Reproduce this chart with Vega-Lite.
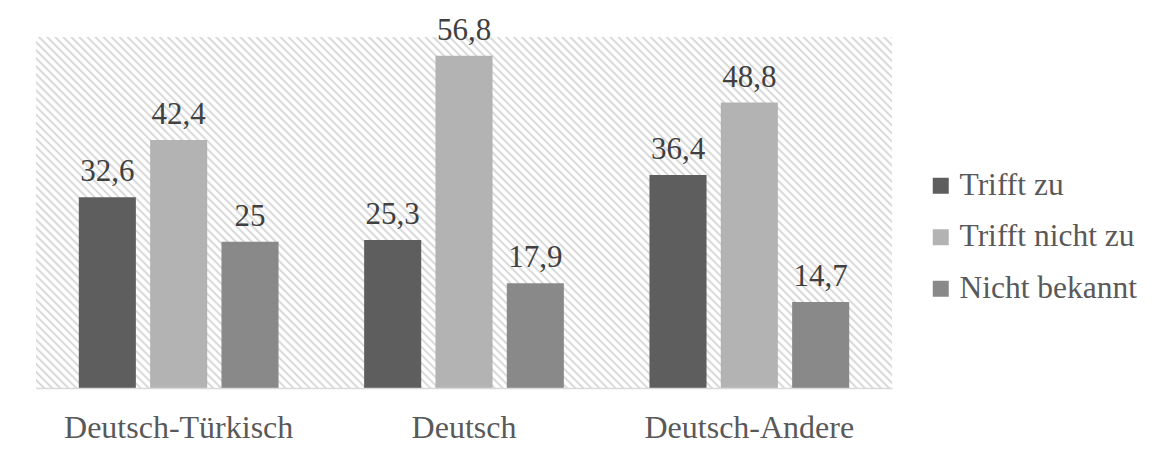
{
  "$schema": "https://vega.github.io/schema/vega-lite/v6.json",
  "width": 856,
  "height": 351,
  "autosize": {"type": "none"},
  "padding": {"left": 36, "top": 37, "right": 264, "bottom": 67},
  "background": "white",
  "config": {
    "view": {"stroke": null},
    "font": "Liberation Serif",
    "locale": {"number": {"decimal": ",", "thousands": ".", "grouping": [3], "currency": ["", " €"]}}
  },
  "data": {
    "values": [
      {"Gruppe": "Deutsch-Türkisch", "Antwort": "Trifft zu", "Wert": 32.6},
      {"Gruppe": "Deutsch-Türkisch", "Antwort": "Trifft nicht zu", "Wert": 42.4},
      {"Gruppe": "Deutsch-Türkisch", "Antwort": "Nicht bekannt", "Wert": 25},
      {"Gruppe": "Deutsch", "Antwort": "Trifft zu", "Wert": 25.3},
      {"Gruppe": "Deutsch", "Antwort": "Trifft nicht zu", "Wert": 56.8},
      {"Gruppe": "Deutsch", "Antwort": "Nicht bekannt", "Wert": 17.9},
      {"Gruppe": "Deutsch-Andere", "Antwort": "Trifft zu", "Wert": 36.4},
      {"Gruppe": "Deutsch-Andere", "Antwort": "Trifft nicht zu", "Wert": 48.8},
      {"Gruppe": "Deutsch-Andere", "Antwort": "Nicht bekannt", "Wert": 14.7}
    ]
  },
  "layer": [
    {
      "data": {"values": [{}]},
      "mark": {
        "type": "rect",
        "fill": {
          "gradient": "linear",
          "x1": 0, "y1": 1, "x2": 1.2071, "y2": 0.50503,
          "stops": [
            {"offset":0,"color":"#d2d2d2"},{"offset":0.002,"color":"#fff"},{"offset":0.00467,"color":"#fff"},{"offset":0.00667,"color":"#d2d2d2"},{"offset":0.00867,"color":"#fff"},{"offset":0.01133,"color":"#fff"},{"offset":0.01333,"color":"#d2d2d2"},{"offset":0.01533,"color":"#fff"},
            {"offset":0.018,"color":"#fff"},{"offset":0.02,"color":"#d2d2d2"},{"offset":0.022,"color":"#fff"},{"offset":0.02467,"color":"#fff"},{"offset":0.02667,"color":"#d2d2d2"},{"offset":0.02867,"color":"#fff"},{"offset":0.03133,"color":"#fff"},{"offset":0.03333,"color":"#d2d2d2"},{"offset":0.03533,"color":"#fff"},
            {"offset":0.038,"color":"#fff"},{"offset":0.04,"color":"#d2d2d2"},{"offset":0.042,"color":"#fff"},{"offset":0.04467,"color":"#fff"},{"offset":0.04667,"color":"#d2d2d2"},{"offset":0.04867,"color":"#fff"},{"offset":0.05133,"color":"#fff"},{"offset":0.05333,"color":"#d2d2d2"},{"offset":0.05533,"color":"#fff"},
            {"offset":0.058,"color":"#fff"},{"offset":0.06,"color":"#d2d2d2"},{"offset":0.062,"color":"#fff"},{"offset":0.06467,"color":"#fff"},{"offset":0.06667,"color":"#d2d2d2"},{"offset":0.06867,"color":"#fff"},{"offset":0.07133,"color":"#fff"},{"offset":0.07333,"color":"#d2d2d2"},{"offset":0.07533,"color":"#fff"},
            {"offset":0.078,"color":"#fff"},{"offset":0.08,"color":"#d2d2d2"},{"offset":0.082,"color":"#fff"},{"offset":0.08467,"color":"#fff"},{"offset":0.08667,"color":"#d2d2d2"},{"offset":0.08867,"color":"#fff"},{"offset":0.09133,"color":"#fff"},{"offset":0.09333,"color":"#d2d2d2"},{"offset":0.09533,"color":"#fff"},
            {"offset":0.098,"color":"#fff"},{"offset":0.1,"color":"#d2d2d2"},{"offset":0.102,"color":"#fff"},{"offset":0.10467,"color":"#fff"},{"offset":0.10667,"color":"#d2d2d2"},{"offset":0.10867,"color":"#fff"},{"offset":0.11133,"color":"#fff"},{"offset":0.11333,"color":"#d2d2d2"},{"offset":0.11533,"color":"#fff"},
            {"offset":0.118,"color":"#fff"},{"offset":0.12,"color":"#d2d2d2"},{"offset":0.122,"color":"#fff"},{"offset":0.12467,"color":"#fff"},{"offset":0.12667,"color":"#d2d2d2"},{"offset":0.12867,"color":"#fff"},{"offset":0.13133,"color":"#fff"},{"offset":0.13333,"color":"#d2d2d2"},{"offset":0.13533,"color":"#fff"},
            {"offset":0.138,"color":"#fff"},{"offset":0.14,"color":"#d2d2d2"},{"offset":0.142,"color":"#fff"},{"offset":0.14467,"color":"#fff"},{"offset":0.14667,"color":"#d2d2d2"},{"offset":0.14867,"color":"#fff"},{"offset":0.15133,"color":"#fff"},{"offset":0.15333,"color":"#d2d2d2"},{"offset":0.15533,"color":"#fff"},
            {"offset":0.158,"color":"#fff"},{"offset":0.16,"color":"#d2d2d2"},{"offset":0.162,"color":"#fff"},{"offset":0.16467,"color":"#fff"},{"offset":0.16667,"color":"#d2d2d2"},{"offset":0.16867,"color":"#fff"},{"offset":0.17133,"color":"#fff"},{"offset":0.17333,"color":"#d2d2d2"},{"offset":0.17533,"color":"#fff"},
            {"offset":0.178,"color":"#fff"},{"offset":0.18,"color":"#d2d2d2"},{"offset":0.182,"color":"#fff"},{"offset":0.18467,"color":"#fff"},{"offset":0.18667,"color":"#d2d2d2"},{"offset":0.18867,"color":"#fff"},{"offset":0.19133,"color":"#fff"},{"offset":0.19333,"color":"#d2d2d2"},{"offset":0.19533,"color":"#fff"},
            {"offset":0.198,"color":"#fff"},{"offset":0.2,"color":"#d2d2d2"},{"offset":0.202,"color":"#fff"},{"offset":0.20467,"color":"#fff"},{"offset":0.20667,"color":"#d2d2d2"},{"offset":0.20867,"color":"#fff"},{"offset":0.21133,"color":"#fff"},{"offset":0.21333,"color":"#d2d2d2"},{"offset":0.21533,"color":"#fff"},
            {"offset":0.218,"color":"#fff"},{"offset":0.22,"color":"#d2d2d2"},{"offset":0.222,"color":"#fff"},{"offset":0.22467,"color":"#fff"},{"offset":0.22667,"color":"#d2d2d2"},{"offset":0.22867,"color":"#fff"},{"offset":0.23133,"color":"#fff"},{"offset":0.23333,"color":"#d2d2d2"},{"offset":0.23533,"color":"#fff"},
            {"offset":0.238,"color":"#fff"},{"offset":0.24,"color":"#d2d2d2"},{"offset":0.242,"color":"#fff"},{"offset":0.24467,"color":"#fff"},{"offset":0.24667,"color":"#d2d2d2"},{"offset":0.24867,"color":"#fff"},{"offset":0.25133,"color":"#fff"},{"offset":0.25333,"color":"#d2d2d2"},{"offset":0.25533,"color":"#fff"},
            {"offset":0.258,"color":"#fff"},{"offset":0.26,"color":"#d2d2d2"},{"offset":0.262,"color":"#fff"},{"offset":0.26467,"color":"#fff"},{"offset":0.26667,"color":"#d2d2d2"},{"offset":0.26867,"color":"#fff"},{"offset":0.27133,"color":"#fff"},{"offset":0.27333,"color":"#d2d2d2"},{"offset":0.27533,"color":"#fff"},
            {"offset":0.278,"color":"#fff"},{"offset":0.28,"color":"#d2d2d2"},{"offset":0.282,"color":"#fff"},{"offset":0.28467,"color":"#fff"},{"offset":0.28667,"color":"#d2d2d2"},{"offset":0.28867,"color":"#fff"},{"offset":0.29133,"color":"#fff"},{"offset":0.29333,"color":"#d2d2d2"},{"offset":0.29533,"color":"#fff"},
            {"offset":0.298,"color":"#fff"},{"offset":0.3,"color":"#d2d2d2"},{"offset":0.302,"color":"#fff"},{"offset":0.30467,"color":"#fff"},{"offset":0.30667,"color":"#d2d2d2"},{"offset":0.30867,"color":"#fff"},{"offset":0.31133,"color":"#fff"},{"offset":0.31333,"color":"#d2d2d2"},{"offset":0.31533,"color":"#fff"},
            {"offset":0.318,"color":"#fff"},{"offset":0.32,"color":"#d2d2d2"},{"offset":0.322,"color":"#fff"},{"offset":0.32467,"color":"#fff"},{"offset":0.32667,"color":"#d2d2d2"},{"offset":0.32867,"color":"#fff"},{"offset":0.33133,"color":"#fff"},{"offset":0.33333,"color":"#d2d2d2"},{"offset":0.33533,"color":"#fff"},
            {"offset":0.338,"color":"#fff"},{"offset":0.34,"color":"#d2d2d2"},{"offset":0.342,"color":"#fff"},{"offset":0.34467,"color":"#fff"},{"offset":0.34667,"color":"#d2d2d2"},{"offset":0.34867,"color":"#fff"},{"offset":0.35133,"color":"#fff"},{"offset":0.35333,"color":"#d2d2d2"},{"offset":0.35533,"color":"#fff"},
            {"offset":0.358,"color":"#fff"},{"offset":0.36,"color":"#d2d2d2"},{"offset":0.362,"color":"#fff"},{"offset":0.36467,"color":"#fff"},{"offset":0.36667,"color":"#d2d2d2"},{"offset":0.36867,"color":"#fff"},{"offset":0.37133,"color":"#fff"},{"offset":0.37333,"color":"#d2d2d2"},{"offset":0.37533,"color":"#fff"},
            {"offset":0.378,"color":"#fff"},{"offset":0.38,"color":"#d2d2d2"},{"offset":0.382,"color":"#fff"},{"offset":0.38467,"color":"#fff"},{"offset":0.38667,"color":"#d2d2d2"},{"offset":0.38867,"color":"#fff"},{"offset":0.39133,"color":"#fff"},{"offset":0.39333,"color":"#d2d2d2"},{"offset":0.39533,"color":"#fff"},
            {"offset":0.398,"color":"#fff"},{"offset":0.4,"color":"#d2d2d2"},{"offset":0.402,"color":"#fff"},{"offset":0.40467,"color":"#fff"},{"offset":0.40667,"color":"#d2d2d2"},{"offset":0.40867,"color":"#fff"},{"offset":0.41133,"color":"#fff"},{"offset":0.41333,"color":"#d2d2d2"},{"offset":0.41533,"color":"#fff"},
            {"offset":0.418,"color":"#fff"},{"offset":0.42,"color":"#d2d2d2"},{"offset":0.422,"color":"#fff"},{"offset":0.42467,"color":"#fff"},{"offset":0.42667,"color":"#d2d2d2"},{"offset":0.42867,"color":"#fff"},{"offset":0.43133,"color":"#fff"},{"offset":0.43333,"color":"#d2d2d2"},{"offset":0.43533,"color":"#fff"},
            {"offset":0.438,"color":"#fff"},{"offset":0.44,"color":"#d2d2d2"},{"offset":0.442,"color":"#fff"},{"offset":0.44467,"color":"#fff"},{"offset":0.44667,"color":"#d2d2d2"},{"offset":0.44867,"color":"#fff"},{"offset":0.45133,"color":"#fff"},{"offset":0.45333,"color":"#d2d2d2"},{"offset":0.45533,"color":"#fff"},
            {"offset":0.458,"color":"#fff"},{"offset":0.46,"color":"#d2d2d2"},{"offset":0.462,"color":"#fff"},{"offset":0.46467,"color":"#fff"},{"offset":0.46667,"color":"#d2d2d2"},{"offset":0.46867,"color":"#fff"},{"offset":0.47133,"color":"#fff"},{"offset":0.47333,"color":"#d2d2d2"},{"offset":0.47533,"color":"#fff"},
            {"offset":0.478,"color":"#fff"},{"offset":0.48,"color":"#d2d2d2"},{"offset":0.482,"color":"#fff"},{"offset":0.48467,"color":"#fff"},{"offset":0.48667,"color":"#d2d2d2"},{"offset":0.48867,"color":"#fff"},{"offset":0.49133,"color":"#fff"},{"offset":0.49333,"color":"#d2d2d2"},{"offset":0.49533,"color":"#fff"},
            {"offset":0.498,"color":"#fff"},{"offset":0.5,"color":"#d2d2d2"},{"offset":0.502,"color":"#fff"},{"offset":0.50467,"color":"#fff"},{"offset":0.50667,"color":"#d2d2d2"},{"offset":0.50867,"color":"#fff"},{"offset":0.51133,"color":"#fff"},{"offset":0.51333,"color":"#d2d2d2"},{"offset":0.51533,"color":"#fff"},
            {"offset":0.518,"color":"#fff"},{"offset":0.52,"color":"#d2d2d2"},{"offset":0.522,"color":"#fff"},{"offset":0.52467,"color":"#fff"},{"offset":0.52667,"color":"#d2d2d2"},{"offset":0.52867,"color":"#fff"},{"offset":0.53133,"color":"#fff"},{"offset":0.53333,"color":"#d2d2d2"},{"offset":0.53533,"color":"#fff"},
            {"offset":0.538,"color":"#fff"},{"offset":0.54,"color":"#d2d2d2"},{"offset":0.542,"color":"#fff"},{"offset":0.54467,"color":"#fff"},{"offset":0.54667,"color":"#d2d2d2"},{"offset":0.54867,"color":"#fff"},{"offset":0.55133,"color":"#fff"},{"offset":0.55333,"color":"#d2d2d2"},{"offset":0.55533,"color":"#fff"},
            {"offset":0.558,"color":"#fff"},{"offset":0.56,"color":"#d2d2d2"},{"offset":0.562,"color":"#fff"},{"offset":0.56467,"color":"#fff"},{"offset":0.56667,"color":"#d2d2d2"},{"offset":0.56867,"color":"#fff"},{"offset":0.57133,"color":"#fff"},{"offset":0.57333,"color":"#d2d2d2"},{"offset":0.57533,"color":"#fff"},
            {"offset":0.578,"color":"#fff"},{"offset":0.58,"color":"#d2d2d2"},{"offset":0.582,"color":"#fff"},{"offset":0.58467,"color":"#fff"},{"offset":0.58667,"color":"#d2d2d2"},{"offset":0.58867,"color":"#fff"},{"offset":0.59133,"color":"#fff"},{"offset":0.59333,"color":"#d2d2d2"},{"offset":0.59533,"color":"#fff"},
            {"offset":0.598,"color":"#fff"},{"offset":0.6,"color":"#d2d2d2"},{"offset":0.602,"color":"#fff"},{"offset":0.60467,"color":"#fff"},{"offset":0.60667,"color":"#d2d2d2"},{"offset":0.60867,"color":"#fff"},{"offset":0.61133,"color":"#fff"},{"offset":0.61333,"color":"#d2d2d2"},{"offset":0.61533,"color":"#fff"},
            {"offset":0.618,"color":"#fff"},{"offset":0.62,"color":"#d2d2d2"},{"offset":0.622,"color":"#fff"},{"offset":0.62467,"color":"#fff"},{"offset":0.62667,"color":"#d2d2d2"},{"offset":0.62867,"color":"#fff"},{"offset":0.63133,"color":"#fff"},{"offset":0.63333,"color":"#d2d2d2"},{"offset":0.63533,"color":"#fff"},
            {"offset":0.638,"color":"#fff"},{"offset":0.64,"color":"#d2d2d2"},{"offset":0.642,"color":"#fff"},{"offset":0.64467,"color":"#fff"},{"offset":0.64667,"color":"#d2d2d2"},{"offset":0.64867,"color":"#fff"},{"offset":0.65133,"color":"#fff"},{"offset":0.65333,"color":"#d2d2d2"},{"offset":0.65533,"color":"#fff"},
            {"offset":0.658,"color":"#fff"},{"offset":0.66,"color":"#d2d2d2"},{"offset":0.662,"color":"#fff"},{"offset":0.66467,"color":"#fff"},{"offset":0.66667,"color":"#d2d2d2"},{"offset":0.66867,"color":"#fff"},{"offset":0.67133,"color":"#fff"},{"offset":0.67333,"color":"#d2d2d2"},{"offset":0.67533,"color":"#fff"},
            {"offset":0.678,"color":"#fff"},{"offset":0.68,"color":"#d2d2d2"},{"offset":0.682,"color":"#fff"},{"offset":0.68467,"color":"#fff"},{"offset":0.68667,"color":"#d2d2d2"},{"offset":0.68867,"color":"#fff"},{"offset":0.69133,"color":"#fff"},{"offset":0.69333,"color":"#d2d2d2"},{"offset":0.69533,"color":"#fff"},
            {"offset":0.698,"color":"#fff"},{"offset":0.7,"color":"#d2d2d2"},{"offset":0.702,"color":"#fff"},{"offset":0.70467,"color":"#fff"},{"offset":0.70667,"color":"#d2d2d2"},{"offset":0.70867,"color":"#fff"},{"offset":0.71133,"color":"#fff"},{"offset":0.71333,"color":"#d2d2d2"},{"offset":0.71533,"color":"#fff"},
            {"offset":0.718,"color":"#fff"},{"offset":0.72,"color":"#d2d2d2"},{"offset":0.722,"color":"#fff"},{"offset":0.72467,"color":"#fff"},{"offset":0.72667,"color":"#d2d2d2"},{"offset":0.72867,"color":"#fff"},{"offset":0.73133,"color":"#fff"},{"offset":0.73333,"color":"#d2d2d2"},{"offset":0.73533,"color":"#fff"},
            {"offset":0.738,"color":"#fff"},{"offset":0.74,"color":"#d2d2d2"},{"offset":0.742,"color":"#fff"},{"offset":0.74467,"color":"#fff"},{"offset":0.74667,"color":"#d2d2d2"},{"offset":0.74867,"color":"#fff"},{"offset":0.75133,"color":"#fff"},{"offset":0.75333,"color":"#d2d2d2"},{"offset":0.75533,"color":"#fff"},
            {"offset":0.758,"color":"#fff"},{"offset":0.76,"color":"#d2d2d2"},{"offset":0.762,"color":"#fff"},{"offset":0.76467,"color":"#fff"},{"offset":0.76667,"color":"#d2d2d2"},{"offset":0.76867,"color":"#fff"},{"offset":0.77133,"color":"#fff"},{"offset":0.77333,"color":"#d2d2d2"},{"offset":0.77533,"color":"#fff"},
            {"offset":0.778,"color":"#fff"},{"offset":0.78,"color":"#d2d2d2"},{"offset":0.782,"color":"#fff"},{"offset":0.78467,"color":"#fff"},{"offset":0.78667,"color":"#d2d2d2"},{"offset":0.78867,"color":"#fff"},{"offset":0.79133,"color":"#fff"},{"offset":0.79333,"color":"#d2d2d2"},{"offset":0.79533,"color":"#fff"},
            {"offset":0.798,"color":"#fff"},{"offset":0.8,"color":"#d2d2d2"},{"offset":0.802,"color":"#fff"},{"offset":0.80467,"color":"#fff"},{"offset":0.80667,"color":"#d2d2d2"},{"offset":0.80867,"color":"#fff"},{"offset":0.81133,"color":"#fff"},{"offset":0.81333,"color":"#d2d2d2"},{"offset":0.81533,"color":"#fff"},
            {"offset":0.818,"color":"#fff"},{"offset":0.82,"color":"#d2d2d2"},{"offset":0.822,"color":"#fff"},{"offset":0.82467,"color":"#fff"},{"offset":0.82667,"color":"#d2d2d2"},{"offset":0.82867,"color":"#fff"},{"offset":0.83133,"color":"#fff"},{"offset":0.83333,"color":"#d2d2d2"},{"offset":0.83533,"color":"#fff"},
            {"offset":0.838,"color":"#fff"},{"offset":0.84,"color":"#d2d2d2"},{"offset":0.842,"color":"#fff"},{"offset":0.84467,"color":"#fff"},{"offset":0.84667,"color":"#d2d2d2"},{"offset":0.84867,"color":"#fff"},{"offset":0.85133,"color":"#fff"},{"offset":0.85333,"color":"#d2d2d2"},{"offset":0.85533,"color":"#fff"},
            {"offset":0.858,"color":"#fff"},{"offset":0.86,"color":"#d2d2d2"},{"offset":0.862,"color":"#fff"},{"offset":0.86467,"color":"#fff"},{"offset":0.86667,"color":"#d2d2d2"},{"offset":0.86867,"color":"#fff"},{"offset":0.87133,"color":"#fff"},{"offset":0.87333,"color":"#d2d2d2"},{"offset":0.87533,"color":"#fff"},
            {"offset":0.878,"color":"#fff"},{"offset":0.88,"color":"#d2d2d2"},{"offset":0.882,"color":"#fff"},{"offset":0.88467,"color":"#fff"},{"offset":0.88667,"color":"#d2d2d2"},{"offset":0.88867,"color":"#fff"},{"offset":0.89133,"color":"#fff"},{"offset":0.89333,"color":"#d2d2d2"},{"offset":0.89533,"color":"#fff"},
            {"offset":0.898,"color":"#fff"},{"offset":0.9,"color":"#d2d2d2"},{"offset":0.902,"color":"#fff"},{"offset":0.90467,"color":"#fff"},{"offset":0.90667,"color":"#d2d2d2"},{"offset":0.90867,"color":"#fff"},{"offset":0.91133,"color":"#fff"},{"offset":0.91333,"color":"#d2d2d2"},{"offset":0.91533,"color":"#fff"},
            {"offset":0.918,"color":"#fff"},{"offset":0.92,"color":"#d2d2d2"},{"offset":0.922,"color":"#fff"},{"offset":0.92467,"color":"#fff"},{"offset":0.92667,"color":"#d2d2d2"},{"offset":0.92867,"color":"#fff"},{"offset":0.93133,"color":"#fff"},{"offset":0.93333,"color":"#d2d2d2"},{"offset":0.93533,"color":"#fff"},
            {"offset":0.938,"color":"#fff"},{"offset":0.94,"color":"#d2d2d2"},{"offset":0.942,"color":"#fff"},{"offset":0.94467,"color":"#fff"},{"offset":0.94667,"color":"#d2d2d2"},{"offset":0.94867,"color":"#fff"},{"offset":0.95133,"color":"#fff"},{"offset":0.95333,"color":"#d2d2d2"},{"offset":0.95533,"color":"#fff"},
            {"offset":0.958,"color":"#fff"},{"offset":0.96,"color":"#d2d2d2"},{"offset":0.962,"color":"#fff"},{"offset":0.96467,"color":"#fff"},{"offset":0.96667,"color":"#d2d2d2"},{"offset":0.96867,"color":"#fff"},{"offset":0.97133,"color":"#fff"},{"offset":0.97333,"color":"#d2d2d2"},{"offset":0.97533,"color":"#fff"},
            {"offset":0.978,"color":"#fff"},{"offset":0.98,"color":"#d2d2d2"},{"offset":0.982,"color":"#fff"},{"offset":0.98467,"color":"#fff"},{"offset":0.98667,"color":"#d2d2d2"},{"offset":0.98867,"color":"#fff"},{"offset":0.99133,"color":"#fff"},{"offset":0.99333,"color":"#d2d2d2"},{"offset":0.99533,"color":"#fff"},
            {"offset":0.998,"color":"#fff"},{"offset":1,"color":"#d2d2d2"}
          ]
        }
      },
      "encoding": {}
    },
    {
      "mark": {"type": "bar"},
      "encoding": {
        "x": {
          "field": "Gruppe",
          "type": "nominal",
          "sort": ["Deutsch-Türkisch", "Deutsch", "Deutsch-Andere"],
          "scale": {"paddingInner": 0, "paddingOuter": 0},
          "axis": {
            "title": null,
            "zindex": 1,
            "domainColor": "#d9d9d9",
            "domainWidth": 1.5,
            "ticks": false,
            "tickSize": 0,
            "labelAngle": 0,
            "labelFont": "Liberation Serif",
            "labelFontSize": 32,
            "labelColor": "#595959",
            "labelLimit": 0,
            "labelBaseline": "alphabetic",
            "labelPadding": 49
          }
        },
        "xOffset": {
          "field": "Antwort",
          "sort": ["Trifft zu", "Trifft nicht zu", "Nicht bekannt"],
          "scale": {"paddingInner": 0.2, "paddingOuter": 0.6}
        },
        "y": {"field": "Wert", "type": "quantitative", "scale": {"domain": [0, 60]}, "axis": null},
        "color": {
          "field": "Antwort",
          "type": "nominal",
          "scale": {
            "domain": ["Trifft zu", "Trifft nicht zu", "Nicht bekannt"],
            "range": ["#5e5e5e", "#b3b3b3", "#898989"]
          },
          "legend": {
            "title": null,
            "orient": "none",
            "legendX": 889,
            "legendY": 133,
            "padding": 0,
            "symbolType": "square",
            "symbolSize": 256,
            "symbolStrokeWidth": 0,
            "labelFont": "Liberation Serif",
            "labelFontSize": 31.5,
            "labelColor": "#595959",
            "labelLimit": 0,
            "labelOffset": 3,
            "rowPadding": 18.5
          }
        }
      }
    },
    {
      "mark": {"type": "text", "baseline": "alphabetic", "dy": -16, "font": "Liberation Serif", "fontSize": 31, "color": "#404040"},
      "encoding": {
        "x": {"field": "Gruppe", "type": "nominal", "sort": ["Deutsch-Türkisch", "Deutsch", "Deutsch-Andere"]},
        "xOffset": {"field": "Antwort", "sort": ["Trifft zu", "Trifft nicht zu", "Nicht bekannt"]},
        "y": {"field": "Wert", "type": "quantitative"},
        "text": {"field": "Wert", "type": "quantitative", "format": ".1~f"}
      }
    }
  ]
}
